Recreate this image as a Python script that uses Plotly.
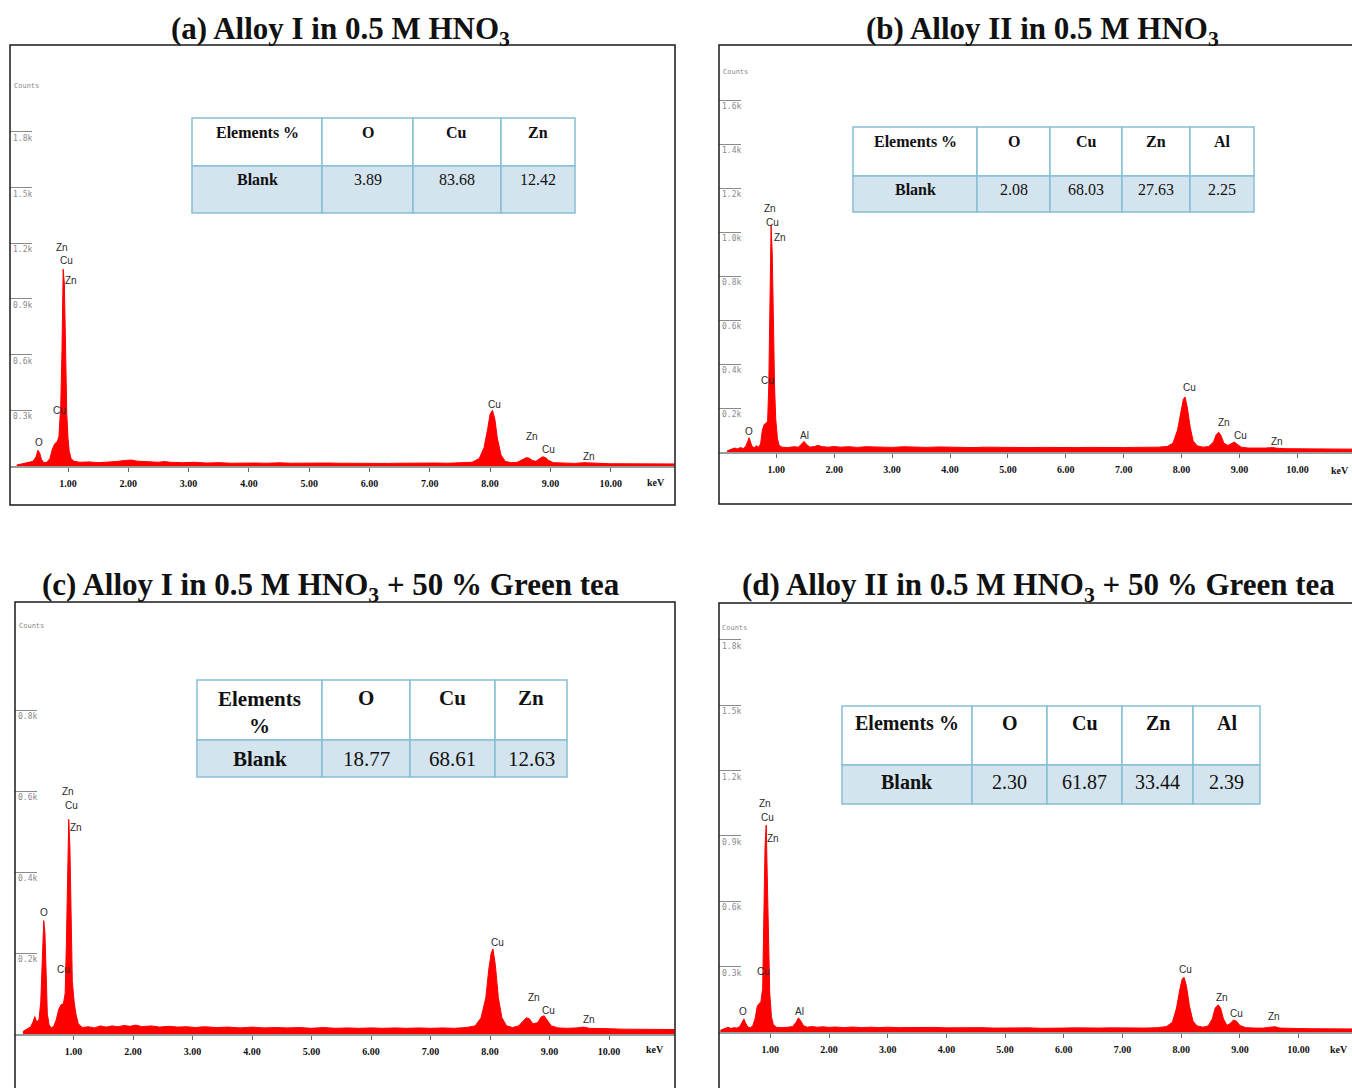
import plotly.graph_objects as go

W, H = 1352, 1088

# ---------------- data ----------------
x_tickvals = [1, 2, 3, 4, 5, 6, 7, 8, 9, 10]
x_ticktext = ["1.00", "2.00", "3.00", "4.00", "5.00", "6.00", "7.00", "8.00", "9.00", "10.00"]

titles = [
    "<b>(a) Alloy I in 0.5 M HNO<sub>3</sub></b>",
    "<b>(b) Alloy II in 0.5 M HNO<sub>3</sub></b>",
    "<b>(c) Alloy I in 0.5 M HNO<sub>3</sub> + 50 % Green tea</b>",
    "<b>(d) Alloy II in 0.5 M HNO<sub>3</sub> + 50 % Green tea</b>",
]

# Panel (a) spectrum: energy (keV) and counts (k)
a_kev = [0.15, 0.25, 0.35, 0.42, 0.47, 0.50, 0.53, 0.56, 0.60, 0.65, 0.70, 0.74, 0.78, 0.82, 0.85,
         0.88, 0.90, 0.92, 0.94, 0.96, 0.98, 1.00, 1.02, 1.05, 1.10, 1.20, 1.35, 1.50, 1.65, 1.80,
         1.95, 2.05, 2.15, 2.30, 2.50, 2.60, 2.70, 2.90, 3.10, 3.30, 3.50, 3.70, 3.90, 4.10, 4.30,
         4.50, 4.70, 4.90, 5.10, 5.30, 5.50, 5.70, 5.90, 6.10, 6.30, 6.50, 6.70, 6.90, 7.10, 7.30,
         7.50, 7.70, 7.82, 7.90, 7.96, 8.00, 8.04, 8.08, 8.12, 8.18, 8.25, 8.35, 8.45, 8.55, 8.60,
         8.65, 8.70, 8.76, 8.82, 8.87, 8.92, 8.97, 9.05, 9.20, 9.40, 9.55, 9.65, 9.80, 10.00, 10.20,
         10.40, 10.60, 10.80, 11.00, 11.06]
a_counts = [0.005, 0.012, 0.018, 0.025, 0.050, 0.085, 0.070, 0.035, 0.018, 0.020, 0.040, 0.090, 0.120, 0.130, 0.160,
            0.330, 0.620, 1.060, 0.980, 0.550, 0.280, 0.150, 0.080, 0.040, 0.025, 0.020, 0.022, 0.018, 0.020, 0.024,
            0.030, 0.032, 0.026, 0.022, 0.020, 0.024, 0.020, 0.018, 0.020, 0.016, 0.018, 0.015, 0.017, 0.016, 0.015,
            0.017, 0.015, 0.016, 0.014, 0.016, 0.015, 0.014, 0.016, 0.015, 0.014, 0.015, 0.016, 0.015, 0.016, 0.015,
            0.017, 0.020, 0.040, 0.100, 0.200, 0.280, 0.300, 0.250, 0.150, 0.060, 0.025, 0.018, 0.020, 0.035, 0.045,
            0.042, 0.030, 0.025, 0.040, 0.050, 0.045, 0.030, 0.018, 0.015, 0.014, 0.018, 0.016, 0.013, 0.012, 0.012,
            0.011, 0.012, 0.011, 0.011, 0.011]

# Panel (b)
b_kev = [0.15, 0.22, 0.28, 0.33, 0.38, 0.43, 0.47, 0.51, 0.53, 0.55, 0.58, 0.62, 0.66, 0.70, 0.73,
         0.76, 0.79, 0.82, 0.85, 0.87, 0.89, 0.91, 0.93, 0.95, 0.97, 0.99, 1.02, 1.05, 1.10, 1.20,
         1.30, 1.38, 1.44, 1.48, 1.52, 1.58, 1.66, 1.72, 1.80, 1.90, 2.00, 2.10, 2.25, 2.40, 2.55,
         2.70, 2.85, 3.00, 3.20, 3.40, 3.60, 3.80, 4.00, 4.20, 4.40, 4.60, 4.80, 5.00, 5.20, 5.40,
         5.60, 5.80, 6.00, 6.20, 6.40, 6.60, 6.80, 7.00, 7.20, 7.40, 7.60, 7.75, 7.85, 7.93, 7.99,
         8.03, 8.06, 8.10, 8.15, 8.20, 8.27, 8.37, 8.47, 8.55, 8.60, 8.64, 8.68, 8.73, 8.80, 8.86,
         8.91, 8.96, 9.03, 9.15, 9.30, 9.45, 9.57, 9.65, 9.80, 10.00, 10.20, 10.40, 10.60, 10.80, 10.95]
b_counts = [0.005, 0.012, 0.018, 0.014, 0.020, 0.016, 0.025, 0.050, 0.065, 0.050, 0.025, 0.020, 0.028, 0.022, 0.040,
            0.100, 0.125, 0.130, 0.140, 0.300, 0.650, 1.030, 0.900, 0.550, 0.300, 0.150, 0.060, 0.030, 0.022, 0.020,
            0.024, 0.022, 0.035, 0.048, 0.035, 0.022, 0.025, 0.030, 0.024, 0.022, 0.025, 0.022, 0.024, 0.021, 0.024,
            0.022, 0.023, 0.021, 0.024, 0.022, 0.021, 0.023, 0.021, 0.022, 0.020, 0.022, 0.021, 0.020, 0.022, 0.020,
            0.021, 0.020, 0.022, 0.020, 0.021, 0.020, 0.021, 0.020, 0.021, 0.020, 0.022, 0.025, 0.040, 0.100, 0.190,
            0.240, 0.250, 0.200, 0.110, 0.050, 0.028, 0.022, 0.025, 0.045, 0.080, 0.090, 0.075, 0.040, 0.030, 0.040,
            0.045, 0.035, 0.022, 0.018, 0.017, 0.018, 0.020, 0.017, 0.015, 0.015, 0.014, 0.014, 0.013, 0.013, 0.013]

# Panel (c)
c_kev = [0.15, 0.22, 0.28, 0.32, 0.35, 0.38, 0.42, 0.45, 0.48, 0.50, 0.52, 0.54, 0.56, 0.59, 0.63,
         0.67, 0.71, 0.75, 0.79, 0.83, 0.86, 0.88, 0.90, 0.92, 0.94, 0.96, 0.98, 1.01, 1.04, 1.08,
         1.15, 1.25, 1.35, 1.45, 1.55, 1.65, 1.75, 1.85, 1.95, 2.05, 2.15, 2.30, 2.45, 2.60, 2.75,
         2.90, 3.05, 3.20, 3.40, 3.60, 3.80, 4.00, 4.20, 4.40, 4.60, 4.80, 5.00, 5.20, 5.40, 5.60,
         5.80, 6.00, 6.20, 6.40, 6.60, 6.80, 7.00, 7.20, 7.40, 7.60, 7.75, 7.85, 7.93, 7.98, 8.02,
         8.05, 8.09, 8.14, 8.20, 8.28, 8.38, 8.48, 8.56, 8.61, 8.66, 8.72, 8.80, 8.86, 8.91, 8.96,
         9.03, 9.15, 9.30, 9.45, 9.57, 9.67, 9.80, 10.00, 10.20, 10.40, 10.60, 10.80, 11.00, 11.10]
c_counts = [0.006, 0.012, 0.018, 0.030, 0.043, 0.030, 0.035, 0.080, 0.200, 0.280, 0.250, 0.130, 0.050, 0.022, 0.015,
            0.020, 0.035, 0.060, 0.072, 0.075, 0.100, 0.220, 0.420, 0.530, 0.460, 0.250, 0.130, 0.080, 0.050, 0.025,
            0.016, 0.018, 0.015, 0.020, 0.017, 0.020, 0.018, 0.021, 0.019, 0.022, 0.018, 0.020, 0.017, 0.019, 0.017,
            0.018, 0.016, 0.018, 0.016, 0.017, 0.015, 0.017, 0.015, 0.016, 0.015, 0.016, 0.014, 0.016, 0.014, 0.015,
            0.014, 0.015, 0.014, 0.015, 0.014, 0.015, 0.014, 0.015, 0.014, 0.016, 0.020, 0.040, 0.090, 0.160, 0.200,
            0.210, 0.170, 0.090, 0.040, 0.020, 0.016, 0.020, 0.032, 0.040, 0.038, 0.025, 0.028, 0.042, 0.045, 0.035,
            0.020, 0.015, 0.014, 0.015, 0.017, 0.014, 0.013, 0.013, 0.012, 0.012, 0.012, 0.011, 0.011, 0.011]

# Panel (d)
d_kev = [0.15, 0.22, 0.28, 0.33, 0.38, 0.43, 0.48, 0.52, 0.55, 0.58, 0.62, 0.66, 0.70, 0.74, 0.78,
         0.81, 0.84, 0.87, 0.89, 0.91, 0.93, 0.95, 0.97, 0.99, 1.02, 1.05, 1.10, 1.20, 1.30, 1.38,
         1.44, 1.48, 1.52, 1.57, 1.63, 1.70, 1.80, 1.90, 2.00, 2.10, 2.25, 2.40, 2.55, 2.70, 2.85,
         3.00, 3.20, 3.40, 3.60, 3.80, 4.00, 4.20, 4.40, 4.60, 4.80, 5.00, 5.20, 5.40, 5.60, 5.80,
         6.00, 6.20, 6.40, 6.60, 6.80, 7.00, 7.20, 7.40, 7.60, 7.75, 7.85, 7.92, 7.98, 8.02, 8.05,
         8.09, 8.14, 8.20, 8.27, 8.37, 8.46, 8.53, 8.58, 8.63, 8.67, 8.72, 8.78, 8.84, 8.89, 8.94,
         9.00, 9.10, 9.25, 9.40, 9.52, 9.60, 9.68, 9.80, 10.00, 10.20, 10.40, 10.60, 10.80, 10.91]
d_counts = [0.008, 0.015, 0.022, 0.016, 0.020, 0.018, 0.025, 0.045, 0.060, 0.040, 0.022, 0.020, 0.028, 0.060, 0.120,
            0.130, 0.140, 0.200, 0.500, 0.850, 0.950, 0.700, 0.380, 0.180, 0.070, 0.035, 0.022, 0.020, 0.022, 0.025,
            0.045, 0.065, 0.050, 0.028, 0.022, 0.025, 0.022, 0.024, 0.021, 0.023, 0.020, 0.023, 0.020, 0.022, 0.020,
            0.022, 0.020, 0.021, 0.019, 0.021, 0.019, 0.020, 0.018, 0.020, 0.018, 0.019, 0.018, 0.019, 0.017, 0.019,
            0.018, 0.019, 0.017, 0.018, 0.019, 0.018, 0.019, 0.018, 0.020, 0.025, 0.045, 0.110, 0.200, 0.245, 0.250,
            0.210, 0.120, 0.050, 0.028, 0.022, 0.028, 0.060, 0.110, 0.125, 0.110, 0.060, 0.030, 0.040, 0.055, 0.050,
            0.030, 0.020, 0.018, 0.018, 0.022, 0.024, 0.018, 0.016, 0.016, 0.015, 0.015, 0.014, 0.014, 0.014]

# y ticks (k counts)
a_yticks = [0.3, 0.6, 0.9, 1.2, 1.5, 1.8]
a_yticktext = ["0.3k", "0.6k", "0.9k", "1.2k", "1.5k", "1.8k"]
b_yticks = [0.2, 0.4, 0.6, 0.8, 1.0, 1.2, 1.4, 1.6]
b_yticktext = ["0.2k", "0.4k", "0.6k", "0.8k", "1.0k", "1.2k", "1.4k", "1.6k"]
c_yticks = [0.2, 0.4, 0.6, 0.8]
c_yticktext = ["0.2k", "0.4k", "0.6k", "0.8k"]
d_yticks = [0.3, 0.6, 0.9, 1.2, 1.5, 1.8]
d_yticktext = ["0.3k", "0.6k", "0.9k", "1.2k", "1.5k", "1.8k"]

# peak labels: element, keV, counts(k)
a_lab_text = ["O", "Cu", "Zn", "Cu", "Zn", "Cu", "Zn", "Cu", "Zn"]
a_lab_kev = [0.52, 0.86, 0.90, 0.97, 1.05, 8.08, 8.69, 8.97, 9.64]
a_lab_cnt = [0.124, 0.30, 1.175, 1.105, 1.00, 0.33, 0.16, 0.09, 0.05]
b_lab_text = ["O", "Cu", "Zn", "Cu", "Zn", "Al", "Cu", "Zn", "Cu", "Zn"]
b_lab_kev = [0.53, 0.85, 0.89, 0.94, 1.06, 1.49, 8.13, 8.73, 9.01, 9.65]
b_lab_cnt = [0.095, 0.325, 1.105, 1.045, 0.975, 0.073, 0.295, 0.136, 0.077, 0.05]
c_lab_text = ["O", "Cu", "Zn", "Cu", "Zn", "Cu", "Zn", "Cu", "Zn"]
c_lab_kev = [0.51, 0.84, 0.91, 0.97, 1.04, 8.12, 8.74, 8.99, 9.66]
c_lab_cnt = [0.30, 0.16, 0.60, 0.563, 0.51, 0.227, 0.091, 0.059, 0.037]
d_lab_text = ["O", "Cu", "Zn", "Cu", "Zn", "Al", "Cu", "Zn", "Cu", "Zn"]
d_lab_kev = [0.54, 0.88, 0.91, 0.96, 1.05, 1.50, 8.08, 8.70, 8.95, 9.58]
d_lab_cnt = [0.092, 0.28, 1.047, 0.987, 0.89, 0.092, 0.285, 0.16, 0.087, 0.069]

# tables
a_tab_head = ["Elements %", "O", "Cu", "Zn"]
a_tab_row = ["Blank", "3.89", "83.68", "12.42"]
b_tab_head = ["Elements %", "O", "Cu", "Zn", "Al"]
b_tab_row = ["Blank", "2.08", "68.03", "27.63", "2.25"]
c_tab_head = ["Elements<br>%", "O", "Cu", "Zn"]
c_tab_row = ["Blank", "18.77", "68.61", "12.63"]
d_tab_head = ["Elements %", "O", "Cu", "Zn", "Al"]
d_tab_row = ["Blank", "2.30", "61.87", "33.44", "2.39"]

# ---------------- layout geometry (pixels) ----------------
panels = [
    dict(kev=a_kev, cnt=a_counts, yt=a_yticks, ytt=a_yticktext, lt=a_lab_text, lx=a_lab_kev, ly=a_lab_cnt,
         th=a_tab_head, tr=a_tab_row, title=titles[0],
         frame=(10, 45, 675, 505), x0px=7.7, pxkev=60.3, zero=466, pxk=185.6,
         title_xy=(340, 31), counts_xy=(12, 86), kev_xy=(656, 482), kev_anchor="center",
         cols=[192, 322, 413, 501, 575], rows=[118, 166, 213], ty=(132, 180), fs=16),
    dict(kev=b_kev, cnt=b_counts, yt=b_yticks, ytt=b_yticktext, lt=b_lab_text, lx=b_lab_kev, ly=b_lab_cnt,
         th=b_tab_head, tr=b_tab_row, title=titles[1],
         frame=(719, 45, 1366, 504), x0px=718.4, pxkev=57.9, zero=452, pxk=220.0,
         title_xy=(1042, 31), counts_xy=(721, 72), kev_xy=(1351, 470), kev_anchor="right",
         cols=[853, 977, 1050, 1122, 1190, 1254], rows=[127, 176, 212], ty=(142, 189), fs=16),
    dict(kev=c_kev, cnt=c_counts, yt=c_yticks, ytt=c_yticktext, lt=c_lab_text, lx=c_lab_kev, ly=c_lab_cnt,
         th=c_tab_head, tr=c_tab_row, title=titles[2],
         frame=(15, 602, 675, 1100), x0px=14.0, pxkev=59.5, zero=1034, pxk=405.0,
         title_xy=(331, 587), counts_xy=(17, 626), kev_xy=(655, 1049), kev_anchor="center",
         cols=[197, 322, 410, 495, 567], rows=[680, 740, 777], ty=(698, 759), fs=21),
    dict(kev=d_kev, cnt=d_counts, yt=d_yticks, ytt=d_yticktext, lt=d_lab_text, lx=d_lab_kev, ly=d_lab_cnt,
         th=d_tab_head, tr=d_tab_row, title=titles[3],
         frame=(719, 603, 1366, 1100), x0px=711.6, pxkev=58.7, zero=1032, pxk=217.8,
         title_xy=(1038, 587), counts_xy=(720, 628), kev_xy=(1350, 1049), kev_anchor="right",
         cols=[842, 972, 1047, 1122, 1193, 1260], rows=[706, 765, 804], ty=(723, 782), fs=20),
]

SERIF = "Liberation Serif"
RED = "#ff0000"
BORDER = "#86bfd6"
ROWFILL = "#d4e4ee"

fig = go.Figure()
shapes = []
annotations = []


def px(x):
    return x / W


def py(y):
    return 1 - y / H


for i, p in enumerate(panels, start=1):
    sfx = "" if i == 1 else str(i)
    fl, ft, fr, fb = p["frame"]
    xr_right = min(fr, W)
    x_range = [(fl - p["x0px"]) / p["pxkev"], (xr_right - p["x0px"]) / p["pxkev"]]
    y_range = [0, (p["zero"] - ft) / p["pxk"]]

    fig.add_trace(go.Scatter(
        x=p["kev"], y=p["cnt"], mode="lines", fill="tozeroy",
        line=dict(color=RED, width=1), fillcolor=RED,
        xaxis="x" + sfx, yaxis="y" + sfx, hoverinfo="skip", showlegend=False))

    fig.layout["xaxis" + sfx] = dict(
        domain=[px(fl), px(xr_right)], range=x_range, anchor="y" + sfx,
        tickmode="array", tickvals=x_tickvals, ticktext=x_ticktext,
        ticks="outside", ticklen=4, tickwidth=1, tickcolor="#666",
        showline=True, linecolor="#9a9a9a", linewidth=2,
        showgrid=False, zeroline=False, ticklabelstandoff=3,
        tickfont=dict(family=SERIF, size=10, color="#111", weight="bold"))
    fig.layout["yaxis" + sfx] = dict(
        domain=[py(p["zero"]), py(ft)], range=y_range, anchor="x" + sfx,
        tickmode="array", tickvals=p["yt"], ticktext=p["ytt"],
        ticks="inside", ticklen=22, tickwidth=1, tickcolor="#8a8a8a",
        ticklabelposition="inside bottom", ticklabelstandoff=0,
        showline=False, showgrid=False, zeroline=False,
        tickfont=dict(family="DejaVu Sans Mono", size=8, color="#8a8a8a"))

    # frame
    shapes.append(dict(type="rect", xref="paper", yref="paper",
                       x0=px(fl), x1=px(fr), y0=py(fb), y1=py(ft),
                       line=dict(color="#1a1a1a", width=1.5), fillcolor="rgba(0,0,0,0)", layer="above"))

    # title
    annotations.append(dict(text=p["title"], xref="paper", yref="paper",
                            x=px(p["title_xy"][0]), y=py(p["title_xy"][1]),
                            xanchor="center", yanchor="middle", showarrow=False,
                            font=dict(family=SERIF, size=31, color="#111")))
    # counts label
    annotations.append(dict(text="Counts", xref="paper", yref="paper",
                            x=px(p["counts_xy"][0]), y=py(p["counts_xy"][1]),
                            xanchor="left", yanchor="middle", showarrow=False,
                            font=dict(family="DejaVu Sans Mono", size=7, color="#8a8a8a")))
    # keV label
    annotations.append(dict(text="<b>keV</b>", xref="paper", yref="paper",
                            x=px(p["kev_xy"][0]), y=py(p["kev_xy"][1]),
                            xanchor=p["kev_anchor"], yanchor="middle", showarrow=False,
                            font=dict(family=SERIF, size=10, color="#111")))
    # peak labels
    for t, lx, ly in zip(p["lt"], p["lx"], p["ly"]):
        annotations.append(dict(text=t, x=lx, y=ly, xref="x" + sfx, yref="y" + sfx,
                                xanchor="center", yanchor="middle", showarrow=False,
                                font=dict(family="Liberation Sans", size=10, color="#2a2a2a")))

    # table
    cols, rows = p["cols"], p["rows"]
    for r in range(2):
        for c in range(len(cols) - 1):
            shapes.append(dict(type="rect", xref="paper", yref="paper",
                               x0=px(cols[c]), x1=px(cols[c + 1]), y0=py(rows[r + 1]), y1=py(rows[r]),
                               line=dict(color=BORDER, width=1.5),
                               fillcolor="white" if r == 0 else ROWFILL, layer="above"))
    for r, cells in enumerate([p["th"], p["tr"]]):
        for c, txt in enumerate(cells):
            bold = (r == 0) or (c == 0)
            label = "<b>%s</b>" % txt if bold else txt
            cx = (cols[c] + cols[c + 1]) / 2
            yy = p["ty"][r]
            anchor = "middle"
            if "<br>" in txt:
                yy = yy - p["fs"] * 0.6
                anchor = "top"
            annotations.append(dict(text=label, xref="paper", yref="paper",
                                    x=px(cx), y=py(yy), xanchor="center", yanchor=anchor,
                                    showarrow=False, align="center",
                                    font=dict(family=SERIF, size=p["fs"], color="#111")))

fig.update_layout(
    width=W, height=H, autosize=False,
    margin=dict(l=0, r=0, t=0, b=0),
    paper_bgcolor="white", plot_bgcolor="white",
    shapes=shapes, annotations=annotations, showlegend=False,
)

fig.write_html("out.html",
               config={"displayModeBar": False},
               post_script="document.body.style.margin='0';document.body.style.padding='0';"
                           "document.body.style.overflow='hidden';")
